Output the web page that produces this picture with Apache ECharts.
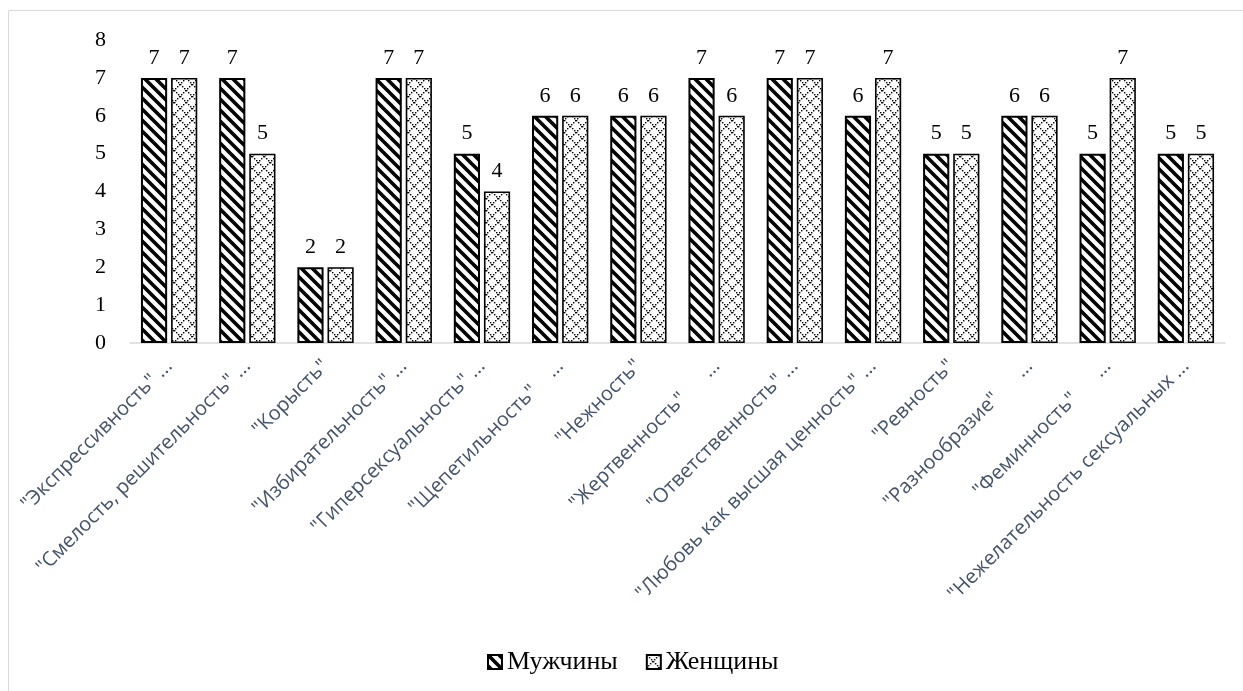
<!DOCTYPE html>
<html>
<head>
<meta charset="utf-8">
<script src="https://cdn.jsdelivr.net/npm/echarts@6/dist/echarts.min.js"></script>
<style>html,body{margin:0;padding:0;background:#fff}#c{width:1243px;height:691px}</style>
</head>
<body>
<div id="c"></div>
<script>
const categories = [
  '"Экспрессивность" ...',
  '"Смелость, решительность" ...',
  '"Корысть"',
  '"Избирательность" ...',
  '"Гиперсексуальность" ...',
  '"Щепетильность"    …',
  '"Нежность"',
  '"Жертвенность"      …',
  '"Ответственность" ...',
  '"Любовь как высшая ценность" ...',
  '"Ревность"',
  '"Разнообразие"      …',
  '"Феминность"      …',
  '"Нежелательность сексуальных ...'
];
const seriesNames = ['Мужчины', 'Женщины'];
const male = [7, 7, 2, 7, 5, 6, 6, 7, 7, 6, 5, 6, 5, 5];
const female = [7, 5, 2, 7, 4, 6, 6, 6, 7, 7, 5, 6, 7, 5];
const yTicks = [0, 1, 2, 3, 4, 5, 6, 7, 8];

function stripePattern() {
  const s = 11;
  const c = document.createElement('canvas');
  c.width = s; c.height = s;
  const g = c.getContext('2d');
  g.fillStyle = '#fff'; g.fillRect(0, 0, s, s);
  g.strokeStyle = '#000'; g.lineWidth = 3.6;
  g.beginPath();
  for (let k = -2; k <= 2; k++) {
    g.moveTo(-s, -s + k * s);
    g.lineTo(2 * s, 2 * s + k * s);
  }
  g.stroke();
  return c;
}
function diamondPattern() {
  const s = 12;
  const c = document.createElement('canvas');
  c.width = s; c.height = s;
  const g = c.getContext('2d');
  g.fillStyle = '#fff'; g.fillRect(0, 0, s, s);
  g.fillStyle = '#000';
  for (let i = 0; i < s; i += 2) {
    g.fillRect(i, i, 1.4, 1.4);
    g.fillRect(s - 1 - i, i, 1.4, 1.4);
  }
  return c;
}

const chart = echarts.init(document.getElementById('c'));
const serif = '"Liberation Serif", "Times New Roman", serif';
chart.setOption({
  animation: false,
  backgroundColor: '#fff',
  graphic: [{
    type: 'rect', silent: true, z: -10,
    shape: { x: 8.5, y: 10.5, width: 1400, height: 900 },
    style: { fill: 'none', stroke: '#D9D9D9', lineWidth: 1 }
  }],
  legend: {
    data: seriesNames,
    left: 482, top: 644,
    itemWidth: 14, itemHeight: 14, itemGap: 28,
    icon: 'rect',
    textStyle: { fontFamily: serif, fontSize: 26, color: '#000' }
  },
  grid: { left: 130, right: 18, top: 40, bottom: 348, containLabel: false },
  xAxis: {
    type: 'category',
    data: categories,
    axisLine: { show: true, lineStyle: { color: '#D9D9D9', width: 1.5 } },
    axisTick: { show: false },
    axisLabel: {
      interval: 0, rotate: 45, margin: 20,
      fontFamily: '"Open Sans", sans-serif', fontSize: 20, color: '#44546A'
    }
  },
  yAxis: {
    type: 'value', min: 0, max: 8, interval: 1,
    axisLine: { show: false }, axisTick: { show: false },
    splitLine: { show: false },
    axisLabel: {
      margin: 24, fontFamily: serif, fontSize: 22, color: '#000',
      formatter: v => yTicks.includes(v) ? String(v) : ''
    }
  },
  series: [
    {
      name: seriesNames[0], type: 'bar', data: male,
      barGap: '15%', barCategoryGap: '28%',
      itemStyle: { color: { image: stripePattern(), repeat: 'repeat' }, borderColor: '#000', borderWidth: 2 },
      label: { show: true, position: 'top', distance: 9, fontFamily: serif, fontSize: 22, color: '#000' }
    },
    {
      name: seriesNames[1], type: 'bar', data: female,
      itemStyle: { color: { image: diamondPattern(), repeat: 'repeat' }, borderColor: '#000', borderWidth: 1.6 },
      label: { show: true, position: 'top', distance: 9, fontFamily: serif, fontSize: 22, color: '#000' }
    }
  ]
});
</script>
</body>
</html>
